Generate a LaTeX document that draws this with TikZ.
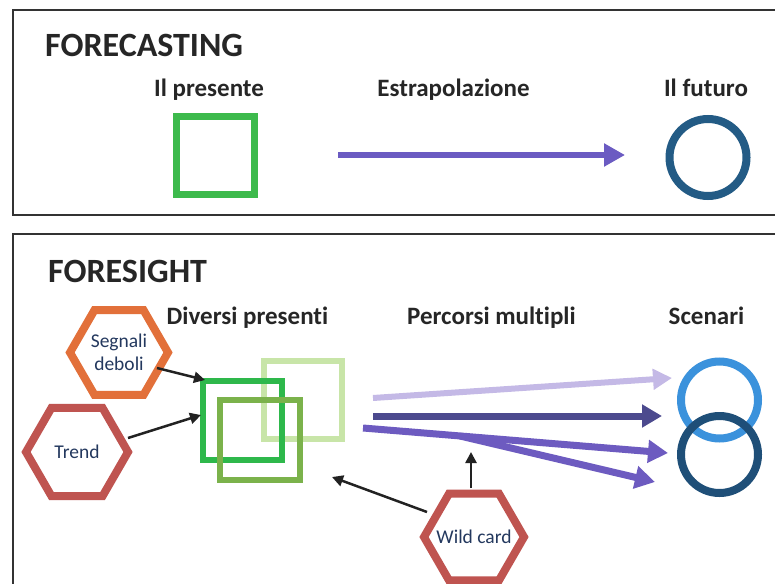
\documentclass[tikz,border=0pt]{standalone}
\usepackage{fontspec}
\setmainfont{Carlito}[Ligatures={NoCommon,NoRequired,NoContextual}]
\usetikzlibrary{shapes.geometric,arrows.meta}
\definecolor{framec}{HTML}{333333}
\definecolor{headc}{HTML}{262626}
\definecolor{greentop}{HTML}{3DBA4C}
\definecolor{sqdark}{HTML}{2EB84B}
\definecolor{sqolive}{HTML}{7BB24B}
\definecolor{sqlight}{HTML}{C8E5A8}
\definecolor{futblue}{HTML}{235B85}
\definecolor{scenlight}{HTML}{3B92DC}
\definecolor{scendark}{HTML}{1F4F78}
\definecolor{arrowtop}{HTML}{6B5BC2}
\definecolor{lav}{HTML}{C4B9E6}
\definecolor{navyp}{HTML}{4C4A8E}
\definecolor{purp}{HTML}{6D5BC0}
\definecolor{hexorange}{HTML}{E2703A}
\definecolor{hexred}{HTML}{BF5450}
\definecolor{textnavy}{HTML}{23385E}
\definecolor{blackarrow}{HTML}{222222}
\begin{document}
\begin{tikzpicture}[x=1pt,y=-1pt,
  frame/.style={draw=framec,line width=2.5pt},
  title/.style={anchor=base west,text=headc,font=\fontsize{34}{40}\selectfont\bfseries,inner sep=0},
  sub/.style={anchor=base,text=headc,font=\fontsize{25}{30}\selectfont\bfseries,inner sep=0},
  sqbox/.style={draw=#1,line width=6pt,minimum size=79pt,inner sep=0,fill=none},
  ring/.style={circle,draw=#1,line width=8pt,minimum size=77pt,inner sep=0},
  hexa/.style={regular polygon,regular polygon sides=6,draw=#1,line width=8pt,inner sep=-30pt,
     minimum size=100pt,text=textnavy,align=center,font=\fontsize{19.5}{22.5}\selectfont},
  big/.style={draw=#1,line width=7pt,-{Triangle[length=20pt,width=22pt]}},
  conn/.style={draw=blackarrow,line width=2.5pt,-{Triangle[length=11pt,width=11pt]}}
]
\useasboundingbox (0,0) rectangle (775,583);
\fill[white] (0,0) rectangle (775,583);
\clip (0,0) rectangle (775,583);

% frames
\draw[frame] (790,10) -- (13,10) -- (13,215) -- (790,215);
\draw[frame] (790,234) -- (13,234) -- (13,600);

% FORECASTING
\node[title] (tfc) at (45,57) {FORECASTING};
\node[sub] (hpres) at (209,96) {Il presente};
\node[sub] (hestr) at (453.5,96) {Estrapolazione};
\node[sub] (hfut) at (706,96) {Il futuro};

\node[sqbox=greentop,line width=7pt,minimum size=78pt] (pres) at (215.5,155.5) {};
\node[ring=futblue] (fut) at (708,157.5) {};
\coordinate (e0) at (338,155);
\coordinate (e1) at (625,155);
\draw[big=arrowtop,line width=6pt,-{Triangle[length=21pt,width=22pt]}] (e0) -- (e1);

% FORESIGHT
\node[title] (tfs) at (48,282) {FORESIGHT};
\node[sub] (hdiv) at (247.5,324) {Diversi presenti};
\node[sub] (hperc) at (491.5,324) {Percorsi multipli};
\node[sub] (hscen) at (706.5,324) {Scenari};

% squares
\node[sqbox=sqlight,minimum size=78pt] (sqC) at (303,400) {};
\node[sqbox=sqdark] (sqA) at (242.5,420.5) {};
\node[sqbox=sqolive,minimum size=80pt] (sqB) at (260,439.5) {};

% hexagons
\node[hexa=hexorange,minimum size=98pt] (hexS) at (119,352.5) {Segnali\\deboli};
\node[hexa=hexred,minimum size=102pt] (hexT) at (77,452) {Trend};
\node[hexa=hexred] (hexW) at (474,537) {Wild card};

% scenario rings
\node[ring=scenlight] (cL) at (719.5,400) {};
\node[ring=scendark] (cD) at (719.5,454.5) {};

% multiple paths
\coordinate (p1s) at (373,398);
\coordinate (p1e) at (672,378);
\coordinate (p2s) at (373,416);
\coordinate (p2e) at (662,416);
\coordinate (p3s) at (363,428);
\coordinate (p3e) at (668,453);
\coordinate (p4s) at (460,436);
\coordinate (p4e) at (655,482);
\draw[big=lav,line width=6pt,-{Triangle[length=19pt,width=20pt]}] (p1s) -- (p1e);
\draw[big=navyp] (p2s) -- (p2e);
\draw[big=purp] (p3s) -- (p3e);
\draw[big=purp] (p4s) -- (p4e);

% black connectors
\coordinate (sS) at (157,368);
\coordinate (tS) at (205,380);
\coordinate (sT) at (128,438);
\coordinate (tT) at (201,415);
\coordinate (sW) at (427,512);
\coordinate (tW) at (332,477);
\coordinate (sU) at (471,488);
\coordinate (tU) at (471,452);
\draw[conn] (sS) -- (tS);
\draw[conn] (sT) -- (tT);
\draw[conn] (sW) -- (tW);
\draw[conn] (sU) -- (tU);
\end{tikzpicture}
\end{document}
